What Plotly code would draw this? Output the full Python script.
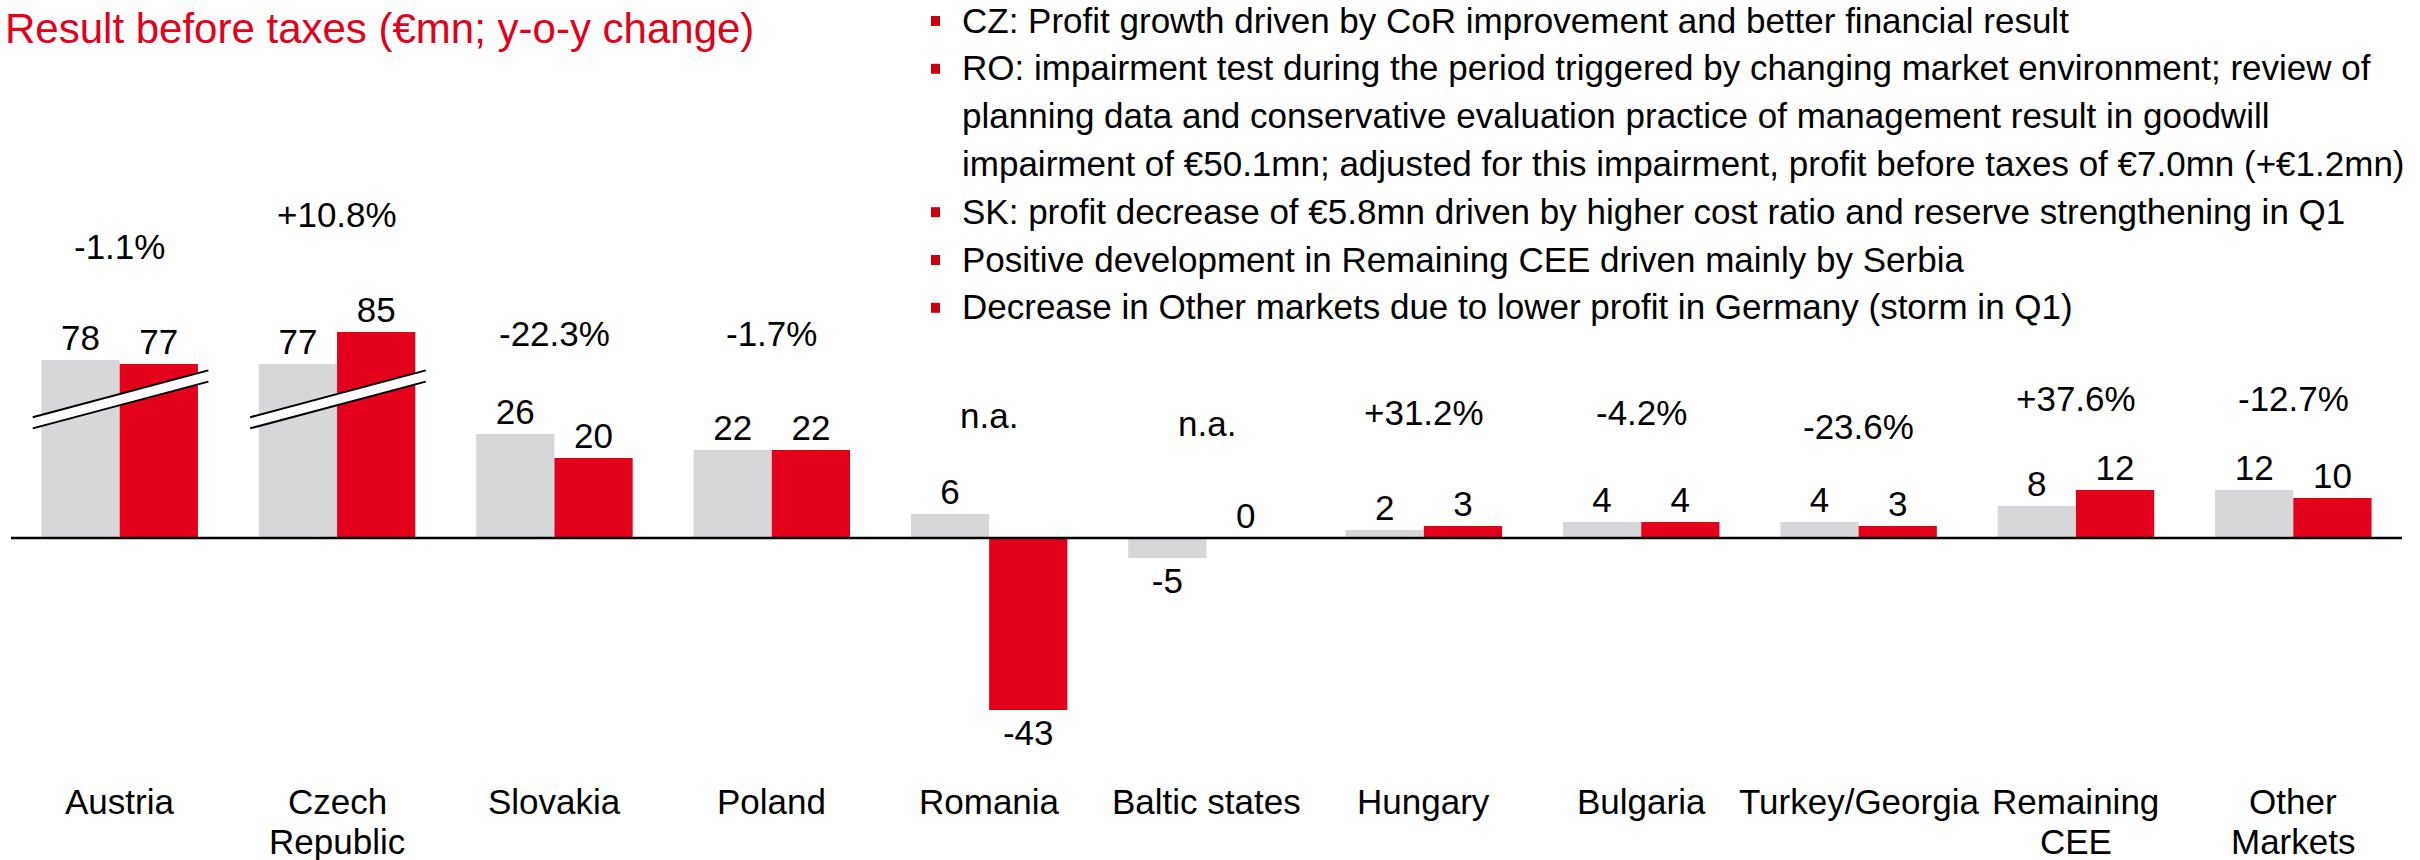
import plotly.graph_objects as go

# ---------------- data ----------------
categories = ["Austria", "Czech Republic", "Slovakia", "Poland", "Romania",
              "Baltic states", "Hungary", "Bulgaria", "Turkey/Georgia",
              "Remaining CEE", "Other Markets"]
category_lines = [["Austria"], ["Czech", "Republic"], ["Slovakia"], ["Poland"], ["Romania"],
                  ["Baltic states"], ["Hungary"], ["Bulgaria"], ["Turkey/Georgia"],
                  ["Remaining", "CEE"], ["Other", "Markets"]]
prev_year = [78, 77, 26, 22, 6, -5, 2, 4, 4, 8, 12]
curr_year = [77, 85, 20, 22, -43, 0, 3, 4, 3, 12, 10]
yoy_change = ["-1.1%", "+10.8%", "-22.3%", "-1.7%", "n.a.", "n.a.",
              "+31.2%", "-4.2%", "-23.6%", "+37.6%", "-12.7%"]
broken_axis = [True, True, False, False, False, False, False, False, False, False, False]

title_text = "Result before taxes (€mn; y-o-y change)"
bullets = [
    ["CZ: Profit growth driven by CoR improvement and better financial result"],
    ["RO: impairment test during the period triggered by changing market environment; review of",
     "planning data and conservative evaluation practice of management result in goodwill",
     "impairment of €50.1mn; adjusted for this impairment, profit before taxes of €7.0mn (+€1.2mn)"],
    ["SK: profit decrease of €5.8mn driven by higher cost ratio and reserve strengthening in Q1"],
    ["Positive development in Remaining CEE driven mainly by Serbia"],
    ["Decrease in Other markets due to lower profit in Germany (storm in Q1)"],
]

# ---------------- styling / layout constants ----------------
W, H = 2420, 860
ML, MR, MT, MB = 11, 18, 100, 94
PW, PH = W - ML - MR, H - MT - MB
PX_PER_UNIT = 4.0
ZERO_PX = 538
YMAX = (ZERO_PX - MT) / PX_PER_UNIT
YMIN = -(H - MB - ZERO_PX) / PX_PER_UNIT
BREAK_OFFSET = 33.5  # shown amount removed from broken bars

GREY = "#D7D7D9"
RED = "#E2001A"
BULLET_RED = "#C8000F"
FONT = "Liberation Sans, Arial, sans-serif"
FS = 35

pct_label_ypx = [247, 214, 333, 333, 415, 423, 412, 412, 426, 398, 398]
cat_line_ypx = [801, 841]


def xp(px):
    return (px - ML) / PW


def yp(py):
    return (H - MB - py) / PH


def shown(vals):
    return [v - BREAK_OFFSET if b else v for v, b in zip(vals, broken_axis)]


fig = go.Figure()
fig.add_trace(go.Bar(
    x=categories, y=shown(prev_year), text=[str(v) for v in prev_year],
    marker=dict(color=GREY, line=dict(width=0)), name="prev",
    textposition="outside", textfont=dict(size=FS, color="black", family=FONT),
    cliponaxis=False, constraintext="none"))
fig.add_trace(go.Bar(
    x=categories, y=shown(curr_year), text=[str(v) for v in curr_year],
    marker=dict(color=RED, line=dict(width=0)), name="curr",
    textposition="outside", textfont=dict(size=FS, color="black", family=FONT),
    cliponaxis=False, constraintext="none"))

annotations = []
# y-o-y change labels
for cat, txt, ypx in zip(categories, yoy_change, pct_label_ypx):
    annotations.append(dict(x=cat, xref="x", y=yp(ypx), yref="paper", text=txt,
                            showarrow=False, xanchor="center", yanchor="middle",
                            font=dict(size=FS, color="black", family=FONT)))
# category labels (one annotation per line for exact line spacing)
for cat, lines in zip(categories, category_lines):
    for k, line in enumerate(lines):
        annotations.append(dict(x=cat, xref="x", y=yp(cat_line_ypx[k]), yref="paper", text=line,
                                showarrow=False, xanchor="center", yanchor="middle",
                                font=dict(size=FS, color="black", family=FONT)))
# title
annotations.append(dict(x=xp(3), xref="paper", y=yp(29), yref="paper", text=title_text,
                        showarrow=False, xanchor="left", yanchor="middle",
                        font=dict(size=42, color=RED, family=FONT)))

shapes = []
# bullets
line_y0, line_step = 20, 47.8
line_i = 0
for b in bullets:
    for j, line in enumerate(b):
        ypx = line_y0 + line_i * line_step
        annotations.append(dict(x=xp(960), xref="paper", y=yp(ypx), yref="paper", text=line,
                                showarrow=False, xanchor="left", yanchor="middle",
                                font=dict(size=FS, color="black", family=FONT)))
        if j == 0:
            shapes.append(dict(type="rect", xref="paper", yref="paper",
                               x0=xp(931), x1=xp(940), y0=yp(ypx - 4), y1=yp(ypx + 6),
                               fillcolor=BULLET_RED, line=dict(width=0), layer="above"))
        line_i += 1

# zero line
shapes.append(dict(type="line", xref="paper", yref="y", x0=0, x1=1, y0=0, y1=0,
                   line=dict(color="black", width=2.5), layer="above"))

# axis-break marks on truncated bars
ncat = len(categories)


def cx(c):
    return (c + 0.5) / ncat


def cy(v):
    return (v - YMIN) / (YMAX - YMIN)


for i, b in enumerate(broken_axis):
    if not b:
        continue
    xl, xr = cx(i - 0.40), cx(i + 0.408)
    up_l, up_r, lo_l, lo_r = cy(30.2), cy(41.9), cy(27.4), cy(39.1)
    shapes.append(dict(type="path", xref="paper", yref="paper",
                       path=f"M {xl},{up_l} L {xr},{up_r} L {xr},{lo_r} L {xl},{lo_l} Z",
                       fillcolor="white", line=dict(width=0), layer="above"))
    shapes.append(dict(type="line", xref="paper", yref="paper", x0=xl, x1=xr, y0=up_l, y1=up_r,
                       line=dict(color="black", width=2), layer="above"))
    shapes.append(dict(type="line", xref="paper", yref="paper", x0=xl, x1=xr, y0=lo_l, y1=lo_r,
                       line=dict(color="black", width=2), layer="above"))

fig.update_layout(
    width=W, height=H,
    margin=dict(l=ML, r=MR, t=MT, b=MB, pad=0, autoexpand=False),
    paper_bgcolor="white", plot_bgcolor="white",
    barmode="group", bargap=0.28, bargroupgap=0,
    showlegend=False,
    font=dict(family=FONT, size=FS, color="black"),
    xaxis=dict(showgrid=False, zeroline=False, showline=False, ticks="",
               showticklabels=False, automargin=False,
               range=[-0.5, ncat - 0.5], fixedrange=True),
    yaxis=dict(visible=False, automargin=False, range=[YMIN, YMAX],
               showgrid=False, zeroline=False),
    annotations=annotations,
    shapes=shapes,
)

fig.write_html("out.html", config={"displayModeBar": False},
               post_script="document.body.style.margin='0';document.body.style.overflow='hidden';")
